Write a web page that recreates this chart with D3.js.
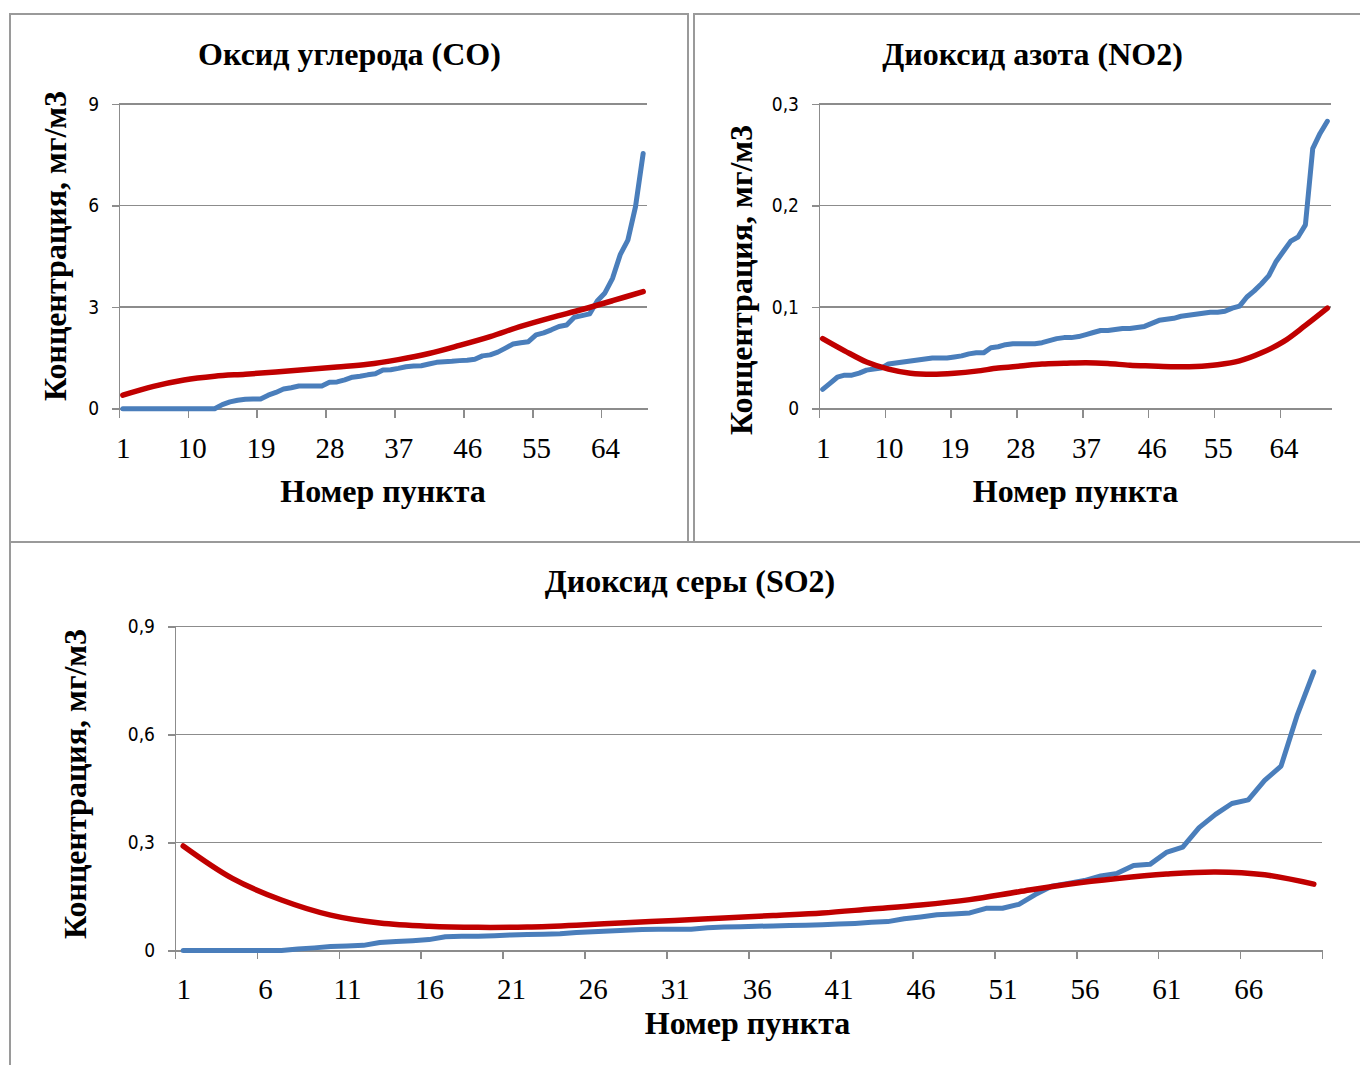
<!DOCTYPE html>
<html>
<head>
<meta charset="utf-8">
<script src="https://cdn.jsdelivr.net/npm/d3@7"></script>
<style>
    body { margin: 0; background: #fff; }
    .grid line, .axis path, .axis line { stroke: #8c8c8c; stroke-width: 1.6; shape-rendering: crispEdges; }
    .ylab text { font-family: "DejaVu Sans Condensed", "Liberation Sans Narrow", "Liberation Sans", sans-serif; font-stretch: condensed; font-size: 19px; fill: #000; }
    .xlab text { font-family: "Liberation Serif", "Times New Roman", serif; font-size: 29px; fill: #000; }
    .title { font-family: "Liberation Serif", "Times New Roman", serif; font-size: 32px; font-weight: bold; fill: #000; }
</style>
</head>
<body>
<div id="chart-area"></div>
<script>
// Оксид углерода (CO), 69 пунктов
let coValues = [0, 0, 0, 0, 0, 0, 0, 0, 0, 0, 0, 0, 0, 0.12, 0.2, 0.25, 0.28, 0.29, 0.29, 0.40,
    0.48, 0.58, 0.62, 0.67, 0.67, 0.67, 0.67, 0.78, 0.79, 0.85, 0.93, 0.96, 1.0, 1.03, 1.14, 1.15, 1.19, 1.24, 1.26, 1.27,
    1.32, 1.37, 1.39, 1.40, 1.42, 1.43, 1.46, 1.56, 1.59, 1.67, 1.79, 1.91, 1.95, 1.98, 2.18, 2.24, 2.33, 2.43, 2.47, 2.70,
    2.75, 2.80, 3.18, 3.42, 3.85, 4.55, 4.98, 5.97, 7.54];
let coTrendIdx = [1, 5, 9, 13, 17, 21, 25, 29, 33, 37, 41, 45, 49, 53, 57, 61, 65, 69];
let coTrendValues = [0.40, 0.66, 0.85, 0.96, 1.02, 1.085, 1.155, 1.23, 1.31, 1.45, 1.63, 1.87, 2.13, 2.43, 2.69, 2.93, 3.19, 3.46];

// Диоксид азота (NO2), 70 пунктов
let no2Values = [0.019, 0.025, 0.031, 0.033, 0.033, 0.035, 0.038, 0.039, 0.040, 0.044,
    0.045, 0.046, 0.047, 0.048, 0.049, 0.050, 0.050, 0.050, 0.051, 0.052,
    0.054, 0.055, 0.055, 0.060, 0.061, 0.063, 0.064, 0.064, 0.064, 0.064,
    0.065, 0.067, 0.069, 0.070, 0.070, 0.071, 0.073, 0.075, 0.077, 0.077,
    0.078, 0.079, 0.079, 0.080, 0.081, 0.084, 0.087, 0.088, 0.089, 0.091,
    0.092, 0.093, 0.094, 0.095, 0.095, 0.096, 0.099, 0.101, 0.110, 0.116,
    0.123, 0.131, 0.145, 0.155, 0.165, 0.169, 0.181, 0.256, 0.271, 0.283];
let no2TrendIdx = [1, 4, 7, 10, 13, 16, 19, 22, 25, 28, 31, 34, 37, 40, 43, 46, 49, 52, 55, 58, 61, 64, 67, 70];
let no2TrendValues = [0.069, 0.057, 0.046, 0.039, 0.035, 0.034, 0.035, 0.037, 0.040, 0.042, 0.044, 0.0447,
    0.0453, 0.0445, 0.0428, 0.042, 0.0413, 0.0415, 0.0432, 0.047, 0.055, 0.066, 0.082, 0.099];

// Диоксид серы (SO2), 70 пунктов
let so2Values = [0, 0, 0, 0, 0, 0, 0, 0.004, 0.007, 0.011,
    0.012, 0.014, 0.022, 0.025, 0.027, 0.030, 0.038, 0.039, 0.039, 0.041,
    0.043, 0.044, 0.045, 0.046, 0.050, 0.052, 0.054, 0.056, 0.058, 0.059,
    0.059, 0.059, 0.063, 0.065, 0.066, 0.067, 0.068, 0.069, 0.070, 0.071,
    0.073, 0.075, 0.078, 0.080, 0.088, 0.093, 0.099, 0.101, 0.104, 0.117,
    0.117, 0.128, 0.155, 0.178, 0.186, 0.194, 0.207, 0.214, 0.236, 0.239,
    0.272, 0.287, 0.341, 0.378, 0.408, 0.418, 0.472, 0.512, 0.655, 0.774];
let so2TrendIdx = [1, 4, 7, 10, 13, 16, 19, 22, 25, 28, 31, 34, 37, 40, 43, 46, 49, 52, 55, 58, 61, 64, 67, 70];
let so2TrendValues = [0.29, 0.20, 0.14, 0.098, 0.076, 0.067, 0.064, 0.065, 0.070, 0.077, 0.083, 0.090,
    0.097, 0.104, 0.115, 0.126, 0.141, 0.163, 0.184, 0.200, 0.212, 0.218, 0.210, 0.184];

let coTicks = [0, 3, 6, 9];
let no2Ticks = [0, 0.1, 0.2, 0.3];
let so2Ticks = [0, 0.3, 0.6, 0.9];

let xTitle = "Номер пункта";
let yTitle = "Концентрация, мг/м3";

class ConcentrationChart {
    constructor(svg, layout, title, values, trendIdx, trendValues, yTicks, step) {
        this.svg = svg;
        this.layout = layout;
        this.title = title;
        this.values = values;
        this.trend = trendIdx.map((k, i) => ({k: k, v: trendValues[i]}));
        this.yTicks = yTicks;
        this.step = step;
        this.initVis();
    }

    initVis() {
        let vis = this;
        let L = vis.layout;
        let n = vis.values.length;

        vis.g = vis.svg.append("g");

        // рамка диаграммы
        vis.g.append("rect")
            .attr("x", L.box[0]).attr("y", L.box[1])
            .attr("width", L.box[2]).attr("height", L.box[3])
            .attr("fill", "none")
            .attr("stroke", "#9a9a9a")
            .attr("stroke-width", 2);

        vis.x = d3.scaleLinear().domain([0.5, n + 0.5]).range([L.x0, L.x1]);
        vis.y = d3.scaleLinear().domain([0, d3.max(vis.yTicks)]).range([L.y0, L.y1]);

        // grid
        vis.g.append("g")
            .attr("class", "grid")
            .selectAll("line")
            .data(vis.yTicks)
            .enter().append("line")
            .attr("x1", L.x0).attr("x2", L.x1)
            .attr("y1", d => vis.y(d)).attr("y2", d => vis.y(d));

        let comma = d => String(+d.toFixed(2)).replace(".", ",");

        vis.g.append("g")
            .attr("class", "axis ylab")
            .attr("transform", `translate(${L.x0}, 0)`)
            .call(d3.axisLeft(vis.y).tickValues(vis.yTicks).tickSize(7).tickSizeOuter(0).tickPadding(13).tickFormat(comma))
            .call(g => g.selectAll("text").attr("font-family", null).attr("font-size", null));

        // tick marks between categories
        let bounds = d3.range(0, n + 1, vis.step).map(b => b + 0.5);
        vis.g.append("g")
            .attr("class", "axis")
            .attr("transform", `translate(0, ${L.y0})`)
            .call(d3.axisBottom(vis.x).tickValues(bounds).tickSize(9).tickSizeOuter(0).tickFormat(""));

        // category labels
        let labels = d3.range(1, n + 1, vis.step);
        vis.g.append("g")
            .attr("class", "xlab")
            .attr("transform", `translate(0, ${L.y0})`)
            .call(d3.axisBottom(vis.x).tickValues(labels).tickSize(0).tickFormat(d3.format("d")))
            .call(g => g.select(".domain").remove())
            .call(g => g.selectAll("text").attr("font-family", null).attr("font-size", null)
                .attr("y", 49).attr("dy", 0));

        vis.g.append("text")
            .attr("class", "title")
            .attr("text-anchor", "middle")
            .attr("x", L.title[0]).attr("y", L.title[1])
            .text(vis.title);

        vis.g.append("text")
            .attr("class", "title")
            .attr("text-anchor", "middle")
            .attr("x", L.xTitle[0]).attr("y", L.xTitle[1])
            .text(xTitle);

        vis.g.append("text")
            .attr("class", "title")
            .attr("text-anchor", "middle")
            .attr("transform", `translate(${L.yTitle[0]}, ${L.yTitle[1]}) rotate(-90)`)
            .text(yTitle);

        vis.updateVis();
    }

    updateVis() {
        let vis = this;

        let dataLine = d3.line()
            .x((d, i) => vis.x(i + 1))
            .y(d => vis.y(d));

        let trendLine = d3.line()
            .curve(d3.curveCatmullRom)
            .x(d => vis.x(d.k))
            .y(d => vis.y(d.v));

        vis.g.append("path")
            .datum(vis.values)
            .attr("d", dataLine)
            .attr("fill", "none")
            .attr("stroke", "#4a7ebb")
            .attr("stroke-width", 5)
            .attr("stroke-linejoin", "round")
            .attr("stroke-linecap", "round");

        vis.g.append("path")
            .datum(vis.trend)
            .attr("d", trendLine)
            .attr("fill", "none")
            .attr("stroke", "#c00000")
            .attr("stroke-width", 5.5)
            .attr("stroke-linecap", "round");
    }
}

let svg = d3.select("#chart-area").append("svg")
    .attr("width", 1360)
    .attr("height", 1065);

svg.append("rect").attr("width", 1360).attr("height", 1065).attr("fill", "#fff");

new ConcentrationChart(svg,
    {box: [10, 14, 678, 528], x0: 119, x1: 647, y0: 408.7, y1: 104, title: [349.5, 65], xTitle: [383, 502], yTitle: [66, 246]},
    "Оксид углерода (СО)", coValues, coTrendIdx, coTrendValues, coTicks, 9);

new ConcentrationChart(svg,
    {box: [694, 14, 680, 528], x0: 819, x1: 1331, y0: 408.7, y1: 104, title: [1032.5, 65], xTitle: [1075.5, 502], yTitle: [752, 280]},
    "Диоксид азота (NO2)", no2Values, no2TrendIdx, no2TrendValues, no2Ticks, 9);

new ConcentrationChart(svg,
    {box: [10, 542, 1360, 540], x0: 175, x1: 1322, y0: 950.4, y1: 626.4, title: [690, 592], xTitle: [747.5, 1034], yTitle: [86, 784]},
    "Диоксид серы (SO2)", so2Values, so2TrendIdx, so2TrendValues, so2Ticks, 5);
</script>
</body>
</html>
